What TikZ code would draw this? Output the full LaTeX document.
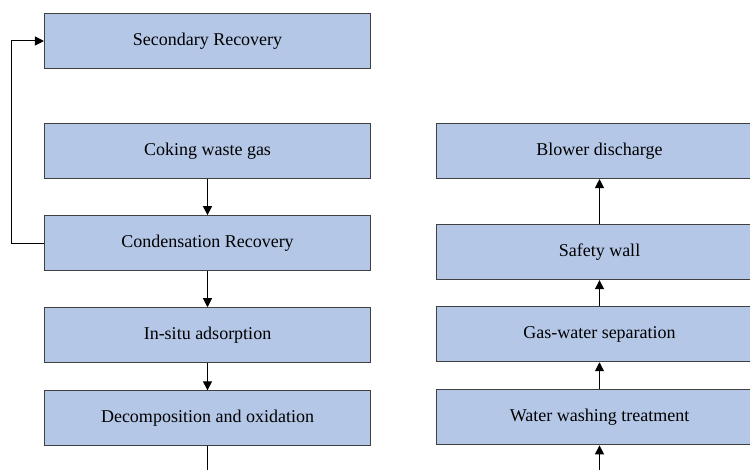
\documentclass[tikz,border=0pt]{standalone}
\usepackage{fontspec}
\setmainfont{Liberation Serif}
\usetikzlibrary{positioning,arrows.meta}
\definecolor{boxBlue}{RGB}{180,199,231}
\tikzstyle{box}=[rectangle,draw=black!75,line width=1.1pt,fill=boxBlue,minimum width=326pt,minimum height=55pt,inner sep=0pt,font=\fontsize{18}{21}\selectfont]
\tikzstyle{myarrow}=[-{Triangle[length=9pt,width=9pt]},line width=1pt]

\begin{document}
\begin{tikzpicture}[x=1pt,y=1pt]
\useasboundingbox (0,0) rectangle (750,-470);
\clip (0,0) rectangle (750,-470);

% left column
\node[box] (secRec) at (207.5,-41) {Secondary Recovery};
\node[box,below=54pt of secRec] (cokGas) {Coking waste gas};
\node[box,below=36pt of cokGas] (conRec) {Condensation Recovery};
\node[box,below=36pt of conRec] (inSitu) {In-situ adsorption};
\node[box,below=27pt of inSitu] (decOx) {Decomposition and oxidation};
\coordinate (decEnd) at (decOx.south |- 0,-470);

% right column
\node[box] (blowDis) at (599.5,-151) {Blower discharge};
\node[box,below=45pt of blowDis] (safWall) {Safety wall};
\node[box,below=26pt of safWall] (gasWat) {Gas-water separation};
\node[box,below=27pt of gasWat] (watWash) {Water washing treatment};
\coordinate (washStart) at (watWash.south |- 0,-470);

\draw[myarrow] (cokGas.south) -- (conRec.north);
\draw[myarrow] (conRec.south) -- (inSitu.north);
\draw[myarrow] (inSitu.south) -- (decOx.north);
\draw[line width=1pt] (decOx.south) -- (decEnd);
\draw[myarrow] (conRec.west) -- ++(-32,0) |- (secRec.west);

\draw[myarrow] (washStart) -- (watWash.south);
\draw[myarrow] (watWash.north) -- (gasWat.south);
\draw[myarrow] (gasWat.north) -- (safWall.south);
\draw[myarrow] (safWall.north) -- (blowDis.south);

\end{tikzpicture}
\end{document}
